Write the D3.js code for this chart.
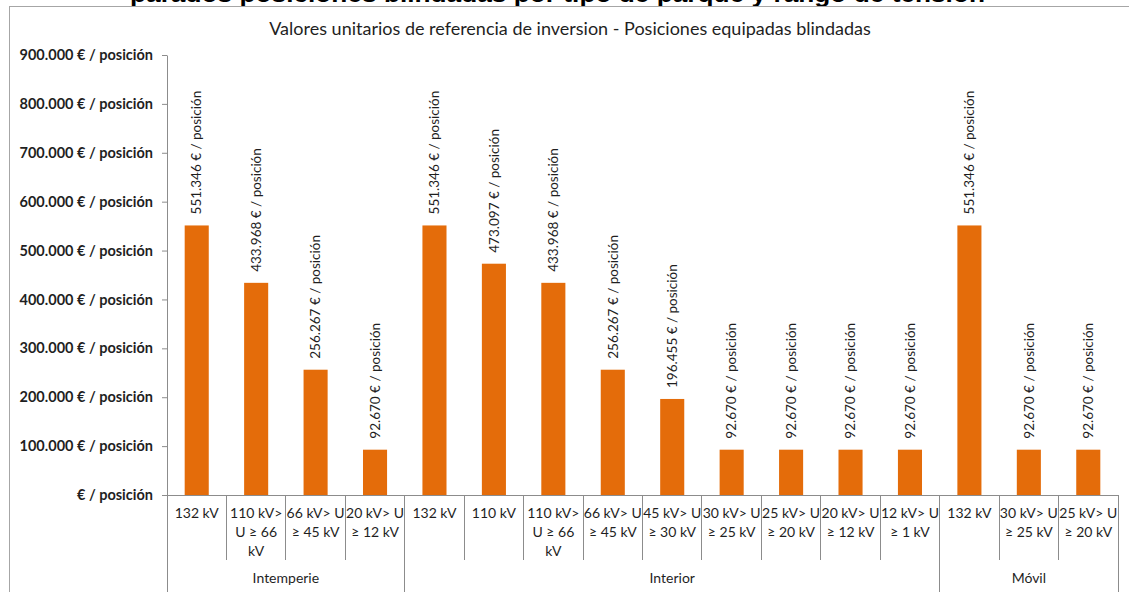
<!DOCTYPE html>
<html>
<head>
<meta charset="utf-8">
<script src="https://cdn.jsdelivr.net/npm/d3@7"></script>
<style>
  body { margin: 0; background: #fff; }
  text { font-family: Lato, "Open Sans", sans-serif; fill: #1f1f1f; }
</style>
</head>
<body>
<svg id="chart"></svg>
<script>

// data
var groups = ["Intemperie", "Interior", "Móvil"];
var groupSizes = [4, 9, 3];
var categories = [
  ["132 kV"], ["110 kV>", "U ≥ 66", "kV"], ["66 kV> U", "≥ 45 kV"], ["20 kV> U", "≥ 12 kV"],
  ["132 kV"], ["110 kV"], ["110 kV>", "U ≥ 66", "kV"], ["66 kV> U", "≥ 45 kV"], ["45 kV> U", "≥ 30 kV"],
  ["30 kV> U", "≥ 25 kV"], ["25 kV> U", "≥ 20 kV"], ["20 kV> U", "≥ 12 kV"], ["12 kV> U", "≥ 1 kV"],
  ["132 kV"], ["30 kV> U", "≥ 25 kV"], ["25 kV> U", "≥ 20 kV"]
];
var values = [551346, 433968, 256267, 92670,
  551346, 473097, 433968, 256267, 196455, 92670, 92670, 92670, 92670,
  551346, 92670, 92670];
var yTicks = [0, 100000, 200000, 300000, 400000, 500000, 600000, 700000, 800000, 900000];

function draw() {
  var width = 1129, height = 592;
  var mLeft = 167, mRight = 1118, mTop = 55, mBottom = 495;
  var grey = "#8c8c8c";
  var orange = "#e46c0a";

  var locale = d3.formatLocale({ decimal: ",", thousands: ".", grouping: [3], currency: ["", "€"] });
  var fmt = locale.format(",d");
  function label(v) { return v === 0 ? "€ / posición" : fmt(v) + " € / posición"; }

  var svg = d3.select("#chart")
    .attr("width", width)
    .attr("height", height);

  // piece of the page heading, cut off at the top edge
  svg.append("text")
    .attr("x", 130)
    .attr("y", 2)
    .attr("textLength", 855)
    .attr("lengthAdjust", "spacingAndGlyphs")
    .style("font-family", "'Liberation Sans', Arial, sans-serif")
    .style("font-weight", "bold")
    .style("font-size", "24px")
    .style("fill", "#000")
    .text("parados posiciones blindadas por tipo de parque y rango de tensión");

  // chart area border
  svg.append("rect")
    .attr("x", 9.5)
    .attr("y", 6.5)
    .attr("width", 1200)
    .attr("height", 700)
    .attr("fill", "#fff")
    .attr("stroke", "#a6a6a6");

  svg.append("text")
    .attr("x", 570)
    .attr("y", 35)
    .attr("text-anchor", "middle")
    .style("font-size", "18px")
    .text("Valores unitarios de referencia de inversion - Posiciones equipadas blindadas");

  var x = d3.scaleBand()
    .domain(d3.range(values.length))
    .range([mLeft, mRight])
    .padding(0);

  var y = d3.scaleLinear()
    .domain([0, 900000])
    .range([mBottom, mTop]);

  var bw = x.bandwidth() * 0.405;

  // y axis
  var yAxis = svg.append("g")
    .attr("transform", "translate(" + mLeft + ",0)")
    .call(d3.axisLeft(y).tickValues(yTicks).tickSize(5).tickSizeOuter(0).tickPadding(9).tickFormat(label));
  yAxis.select(".domain").attr("stroke", grey);
  yAxis.selectAll(".tick line").attr("stroke", grey);
  yAxis.selectAll(".tick text")
    .style("font-family", "Lato, sans-serif")
    .style("font-size", "14.5px")
    .style("font-weight", "bold")
    .attr("fill", "#262626");

  // x axis line
  var xAxis = svg.append("g")
    .attr("transform", "translate(0," + mBottom + ")")
    .call(d3.axisBottom(x).tickSize(0).tickSizeOuter(0).tickFormat(""));
  xAxis.select(".domain").attr("stroke", grey);

  // category separators and group separators
  var starts = [0];
  groupSizes.forEach(function(n, i) { starts.push(starts[i] + n); });

  svg.append("g").selectAll("line")
    .data(d3.range(values.length + 1))
    .enter().append("line")
    .attr("x1", function(i) { return i < values.length ? x(i) : mRight; })
    .attr("x2", function(i) { return i < values.length ? x(i) : mRight; })
    .attr("y1", mBottom)
    .attr("y2", function(i) { return starts.indexOf(i) >= 0 ? height : 560; })
    .attr("stroke", grey)
    .attr("shape-rendering", "crispEdges");

  // bars
  svg.append("g").selectAll("rect")
    .data(values)
    .enter().append("rect")
    .attr("x", function(d, i) { return x(i) + (x.bandwidth() - bw) / 2; })
    .attr("y", function(d) { return y(d); })
    .attr("width", bw)
    .attr("height", function(d) { return mBottom - y(d); })
    .attr("fill", orange);

  // value labels, vertical
  svg.append("g").selectAll("text")
    .data(values)
    .enter().append("text")
    .attr("transform", function(d, i) {
      return "translate(" + (x(i) + x.bandwidth() / 2) + "," + (y(d) - 11) + ") rotate(-90)";
    })
    .attr("dy", "0.35em")
    .style("font-size", "13.5px")
    .text(function(d) { return label(d); });

  // category labels
  var cat = svg.append("g").selectAll("text")
    .data(categories)
    .enter().append("text")
    .attr("text-anchor", "middle")
    .attr("x", function(d, i) { return x(i) + x.bandwidth() / 2; })
    .attr("y", 518)
    .style("font-size", "14px");
  cat.selectAll("tspan")
    .data(function(d) { return d; })
    .enter().append("tspan")
    .attr("x", function() { return d3.select(this.parentNode).attr("x"); })
    .attr("dy", function(d, j) { return j === 0 ? 0 : 19; })
    .text(function(d) { return d; });

  // group labels
  svg.append("g").selectAll("text")
    .data(groups)
    .enter().append("text")
    .attr("text-anchor", "middle")
    .attr("x", function(d, i) {
      var a = x(starts[i]);
      var b = starts[i + 1] < values.length ? x(starts[i + 1]) : mRight;
      return (a + b) / 2;
    })
    .attr("y", 583)
    .style("font-size", "14px")
    .text(function(d) { return d; });
}
draw();

</script>
</body>
</html>
